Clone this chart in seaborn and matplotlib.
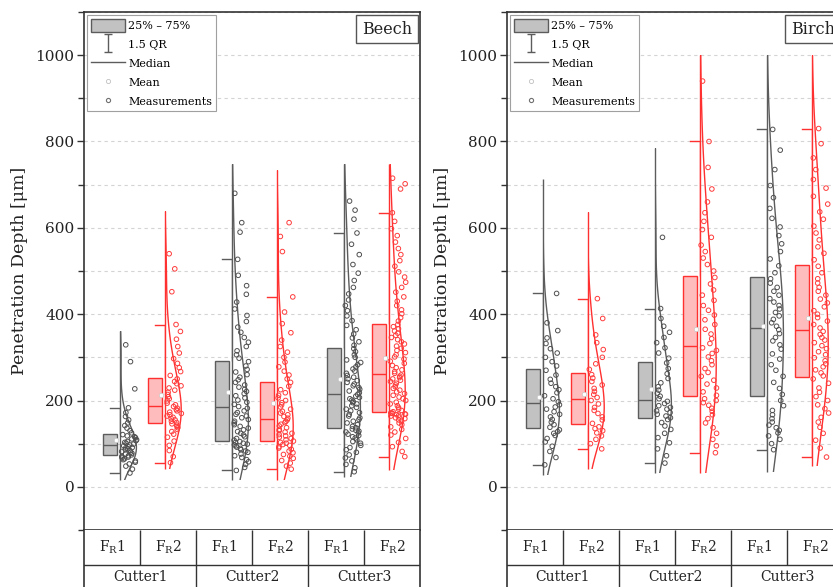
import numpy as np
import matplotlib.pyplot as plt
from matplotlib.patches import Patch, Rectangle
from matplotlib.lines import Line2D
from matplotlib.path import Path
from matplotlib.ticker import MultipleLocator
import seaborn as sns

plt.rcParams['font.family'] = ['DejaVu Serif']
plt.rcParams['mathtext.fontset'] = 'dejavuserif'

woods = ['Beech', 'Birch']
cutters = ['Cutter1', 'Cutter2', 'Cutter3']
forces = ['F$_\\mathregular{R}$1', 'F$_\\mathregular{R}$2']

beech_c1_f1 = [32, 41, 48, 53, 57, 60, 63, 65, 67, 69, 70, 72,
               74, 76, 78, 80, 82, 84, 86, 88, 90, 91, 93, 95,
               97, 99, 101, 103, 105, 107, 109, 111, 114, 116, 118, 121,
               125, 130, 136, 142, 148, 155, 163, 172, 183, 227, 290, 329]
beech_c1_f2 = [56, 70, 84, 96, 106, 115, 122, 128, 133, 137, 140, 143, 146,
               149, 152, 155, 158, 161, 164, 167, 170, 173, 176, 179, 182, 186,
               190, 194, 199, 204, 209, 214, 219, 224, 229, 234, 239, 244, 250,
               258, 267, 276, 286, 297, 310, 325, 342, 360, 376, 452, 505, 540]
beech_c2_f1 = [38, 45, 52, 58, 63, 68, 72, 76, 80, 83, 86, 89, 92, 95, 97, 99, 101, 103, 105,
               108, 112, 116, 120, 124, 128, 132, 136, 140, 144, 148, 152, 156, 160, 164, 168, 172, 176, 182,
               186, 191, 196, 201, 206, 211, 216, 221, 226, 231, 236, 242, 248, 254, 260, 266, 272, 280, 290,
               298, 306, 315, 325, 335, 346, 358, 370, 383, 397, 412, 428, 446, 466, 490, 527, 590, 612, 680]
beech_c2_f2 = [41, 48, 55, 61, 66, 71, 75, 79, 83, 87, 90, 93, 96, 98, 101, 103,
               106, 109, 112, 115, 118, 121, 124, 127, 130, 133, 137, 141, 145, 149, 152, 155,
               159, 163, 167, 171, 175, 180, 185, 190, 195, 200, 206, 212, 218, 225, 233, 242,
               250, 259, 268, 278, 289, 300, 312, 325, 340, 357, 378, 405, 440, 545, 580, 612]
beech_c3_f1 = [35, 44, 52, 60, 67, 74, 80, 86, 91, 96, 101, 105, 109, 113, 116, 119, 122, 125, 127, 129, 131, 134,
               137, 140, 144, 148, 152, 156, 160, 164, 168, 172, 176, 180, 184, 188, 192, 195, 198, 201, 204, 207, 210, 214,
               218, 222, 226, 230, 234, 238, 242, 246, 250, 254, 258, 263, 268, 273, 278, 283, 288, 294, 300, 306, 313, 320,
               328, 336, 345, 354, 364, 374, 385, 396, 408, 420, 433, 447, 462, 478, 495, 515, 538, 562, 588, 620, 641, 662]
beech_c3_f2 = [70, 82, 93, 103, 112, 120, 127, 133, 139, 144, 148, 152, 155, 158, 160, 162, 164, 166, 167, 168, 169, 170, 171, 171,
               174, 177, 180, 184, 188, 192, 196, 200, 204, 208, 212, 216, 220, 224, 228, 232, 236, 240, 244, 247, 250, 253, 256, 259,
               263, 267, 271, 276, 281, 286, 291, 296, 301, 306, 311, 316, 321, 326, 331, 336, 341, 346, 351, 356, 361, 366, 371, 376,
               384, 392, 401, 410, 420, 430, 440, 451, 462, 474, 486, 498, 511, 524, 538, 552, 567, 582, 598, 615, 635, 690, 702, 715]

birch_c1_f1 = [51, 68, 82, 94, 104, 112, 119, 124, 128, 132,
               138, 144, 150, 156, 162, 168, 174, 180, 185, 190,
               197, 204, 211, 218, 225, 232, 240, 249, 259, 270,
               280, 290, 300, 310, 320, 332, 345, 362, 380, 448]
birch_c1_f2 = [88, 100, 110, 118, 125, 130, 135, 139,
               147, 155, 162, 170, 177, 184, 192, 200,
               207, 214, 221, 228, 236, 244, 252, 260,
               272, 285, 300, 318, 334, 352, 390, 436]
birch_c2_f1 = [55, 72, 88, 102, 114, 124, 133, 141, 149, 156,
               160, 164, 168, 172, 176, 180, 184, 188, 193, 198,
               204, 210, 217, 224, 232, 241, 251, 262, 274, 287,
               298, 310, 322, 334, 346, 358, 372, 390, 413, 578]
birch_c2_f2 = [79, 95, 110, 124, 137, 148, 158, 167, 175, 182, 189, 195, 200, 204,
               212, 220, 229, 238, 247, 256, 265, 274, 283, 292, 301, 309, 316, 322,
               332, 343, 354, 365, 376, 387, 398, 409, 420, 432, 444, 456, 470, 485,
               500, 515, 530, 545, 560, 578, 596, 615, 635, 660, 690, 740, 800, 940]
birch_c3_f1 = [86, 100, 110, 118, 125, 131, 137, 143, 150, 158, 167, 177, 188, 200,
               214, 228, 242, 256, 270, 283, 296, 308, 319, 329, 338, 346, 355, 364,
               372, 380, 388, 396, 404, 412, 420, 428, 436, 444, 453, 462, 472, 482,
               496, 512, 528, 545, 563, 582, 602, 622, 645, 670, 698, 735, 780, 828]
birch_c3_f2 = [69, 90, 108, 124, 138, 150, 161, 171, 181, 190, 200, 209, 219, 229, 240, 250,
               257, 264, 271, 278, 285, 292, 299, 306, 313, 320, 327, 334, 340, 346, 353, 360,
               368, 376, 384, 392, 400, 408, 417, 426, 435, 444, 453, 462, 472, 482, 496, 511,
               526, 541, 556, 572, 588, 604, 620, 637, 655, 673, 692, 712, 735, 762, 795, 830]

# range of the drawn distribution curves
beech_curve_lo = [16, 41, 16, 16, 23, 40]
beech_curve_hi = [360, 638, 749, 735, 749, 749]
birch_curve_lo = [28, 42, 33, 33, 34, 48]
birch_curve_hi = [712, 636, 785, 1000, 1000, 1000]

panels = {
    'Beech': ([beech_c1_f1, beech_c1_f2, beech_c2_f1, beech_c2_f2, beech_c3_f1, beech_c3_f2],
              beech_curve_lo, beech_curve_hi),
    'Birch': ([birch_c1_f1, birch_c1_f2, birch_c2_f1, birch_c2_f2, birch_c3_f1, birch_c3_f2],
              birch_curve_lo, birch_curve_hi),
}

box_fill = ['#c2c2c2', '#ffbcbc']
edge_col = ['#5c5c5c', '#ff3030']
pt_col = ['#505050', '#ff3c3c']
spine_col = '#333333'

np.random.seed(3)
fig = plt.figure(figsize=(8.33, 5.87), dpi=100)
W = 336 / 833
lefts = [84 / 833, 507 / 833]

I_path = Path([(-0.4, -1), (0.4, -1), (0, -1), (0, 1), (-0.4, 1), (0.4, 1)],
              [Path.MOVETO, Path.LINETO, Path.MOVETO, Path.LINETO, Path.MOVETO, Path.LINETO])

for k, wood in enumerate(woods):
    ax = fig.add_axes([lefts[k], 57 / 587, W, 518 / 587])
    tab = fig.add_axes([lefts[k], -13 / 587, W, 70 / 587])
    groups, lo_list, hi_list = panels[wood]

    for i, vals in enumerate(groups):
        c, f = divmod(i, 2)
        n = len(vals)
        center = 2 * c + 1.5
        bx = center + (-0.534 if f == 0 else 0.266)
        vx = bx + 0.18

        # box (quartiles + median)
        sns.boxplot(x=np.full(n, bx), y=vals, native_scale=True, width=0.25, saturation=1,
                    color=box_fill[f], linecolor=edge_col[f], linewidth=1, showfliers=False,
                    whiskerprops={'visible': False}, capprops={'visible': False}, ax=ax)

        # whiskers drawn on the curve baseline
        nl = len(ax.lines)
        sns.boxplot(x=np.full(n, vx), y=vals, native_scale=True, width=0.72, saturation=1,
                    color=box_fill[f], linecolor=edge_col[f], linewidth=1, showfliers=False,
                    boxprops={'visible': False}, medianprops={'visible': False}, ax=ax)
        clip = Rectangle((vx - 1, -1000), 1.004, 3000, transform=ax.transData)
        for ln in ax.lines[nl:]:
            ln.set_clip_path(clip)

        # half distribution curve
        nl, nc = len(ax.lines), len(ax.collections)
        sns.violinplot(x=np.full(n, vx), y=vals, native_scale=True, width=0.58, fill=False,
                       inner=None, color=edge_col[f], linecolor=edge_col[f], linewidth=1,
                       cut=4, bw_adjust=1.4, ax=ax)
        clip = Rectangle((vx, lo_list[i]), 1, hi_list[i] - lo_list[i], transform=ax.transData)
        for art in ax.lines[nl:] + ax.collections[nc:]:
            art.set_clip_path(clip)
        ax.vlines(vx, lo_list[i], hi_list[i], color=edge_col[f], lw=1)

        # measurements
        nc = len(ax.collections)
        sns.stripplot(x=np.full(n, vx + 0.16), y=vals, native_scale=True, jitter=0.14,
                      size=3.3, color=pt_col[f], ax=ax)
        for col in ax.collections[nc:]:
            col.set_facecolor('none')
            col.set_edgecolor(pt_col[f])
            col.set_linewidth(0.7)
            col.set_zorder(4)

        # mean
        nl = len(ax.lines)
        sns.pointplot(x=np.full(n, bx + 0.11), y=vals, native_scale=True, errorbar=None,
                      color='white', markers='o', linestyles='none', ax=ax)
        for ln in ax.lines[nl:]:
            ln.set_markersize(3.2)
            ln.set_markerfacecolor('white')
            ln.set_markeredgecolor('#c8c8c8')
            ln.set_markeredgewidth(0.5)
            ln.set_zorder(5)

    ax.set_xlim(0.5, 6.5)
    ax.set_ylim(-100, 1100)
    ax.set_xticks([])
    ax.set_xlabel('')
    ax.set_yticks(range(0, 1001, 200))
    ax.yaxis.set_minor_locator(MultipleLocator(100))
    ax.set_axisbelow(True)
    ax.grid(True, which='both', axis='y', color='#d4d4d4', ls=(0, (3, 3)), lw=0.8)
    ax.grid(False, axis='x')
    ax.tick_params(axis='y', which='major', length=5, width=1, color=spine_col,
                   labelsize=11, pad=2, labelcolor='#222222')
    ax.tick_params(axis='y', which='minor', length=4, width=1, color=spine_col)
    ax.set_ylabel('Penetration Depth [μm]', fontsize=12.5, labelpad=5, color='#222222')
    for s in ax.spines.values():
        s.set_color(spine_col)
        s.set_linewidth(1.2)

    handles = [Patch(fc='#c2c2c2', ec='#5c5c5c', lw=1),
               Line2D([], [], ls='none', marker=I_path, ms=13, mec='#5c5c5c', mew=1),
               Line2D([], [], color='#5c5c5c', lw=1),
               Line2D([], [], ls='none', marker='o', ms=3, mfc='white', mec='#c0c0c0', mew=0.6),
               Line2D([], [], ls='none', marker='o', ms=3, mfc='none', mec='#707070', mew=0.8)]
    labels = ['25% – 75%', '1.5 QR', 'Median', 'Mean', 'Measurements']
    leg = ax.legend(handles, labels, loc='upper left', fontsize=8, frameon=True, fancybox=False,
                    edgecolor='#a0a0a0', framealpha=1, borderaxespad=0.3, handlelength=3.1,
                    handleheight=1.4, labelspacing=0.55, borderpad=0.3, handletextpad=0.3)
    leg.get_frame().set_linewidth(0.8)

    ax.text(0.976, 0.983, wood, transform=ax.transAxes, ha='right', va='top', fontsize=11.5,
            color='#222222',
            bbox=dict(boxstyle='square,pad=0.35', fc='white', ec='#555555', lw=1))

    # category table under the axis
    tab.set_xlim(0.5, 6.5)
    tab.set_ylim(0, 2)
    tab.set_xticks([])
    tab.set_yticks([])
    tab.spines['top'].set_visible(False)
    tab.spines['bottom'].set_visible(False)
    for s in ['left', 'right']:
        tab.spines[s].set_color(spine_col)
        tab.spines[s].set_linewidth(1.2)
    tab.axhline(1, color=spine_col, lw=1)
    for j in range(5):
        b = j + 1.5
        tab.vlines(b, 1 if j % 2 == 0 else 0, 2, color=spine_col, lw=1)
    for j in range(6):
        tab.text(j + 1, 1.5, forces[j % 2], ha='center', va='center', fontsize=10,
                 color='#222222')
    for c, name in enumerate(cutters):
        tab.text(2 * c + 1.5, 0.66, name, ha='center', va='center', fontsize=10,
                 color='#222222')

fig.savefig('out.png', dpi=100)
